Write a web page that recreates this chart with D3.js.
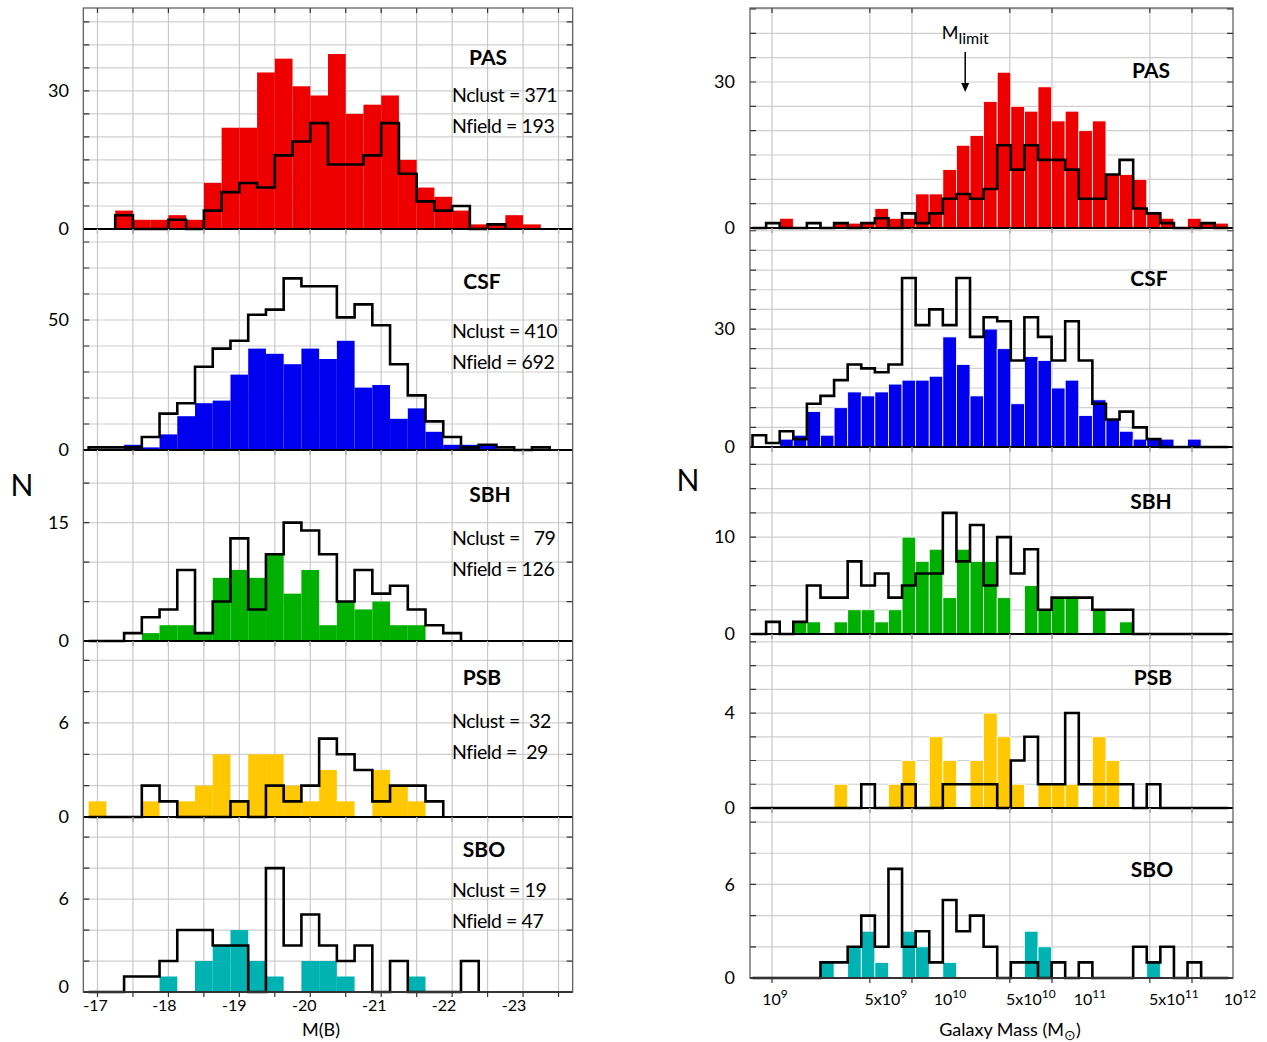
<!doctype html>
<html lang="en">
<head>
<meta charset="UTF-8">
<title>histograms</title>
<script src="https://cdn.jsdelivr.net/npm/d3@7/dist/d3.min.js"></script>
<style>
  body { margin: 0; background: #fff; }
  svg text { font-family: Lato, "Open Sans", sans-serif; fill: #000; white-space: pre; }
</style>
</head>
<body>
<script>
  // ---- data ----
  var classes = ["PAS", "CSF", "SBH", "PSB", "SBO"];
  var nClust = ["371", "410", "  79", " 32", "19"];
  var nField = ["193", "692", "126", " 29", "47"];

  // M(B) histograms, bins of 0.25 mag
  var magPasStart = -17.25;   // PAS bins
  var magStart = -16.875;     // other classes
  var magBin = 0.25;
  var magPasClust = [4,2,2,3,2,10,22,22,34,37,31,29,38,25,27,29,15,9,7,4,1,1,3,1];
  var magPasField = [3,0,0,2,0,4,8,10,9,16,19,23,14,14,16,23,12,6,4,5,0,1];
  var magCsfClust = [0,0,2,1,6,13,18,19,29,39,37,33,39,35,42,24,25,12,16,7,2,2,2];
  var magCsfField = [1,1,1,5,14,18,32,39,42,52,54,66,63,63,51,56,48,33,21,11,5,1,2,1,0,1];
  var magSbhClust = [0,0,0,1,2,2,1,8,9,8,11,6,9,2,5,4,5,2,2];
  var magSbhField = [0,0,1,3,4,9,1,5,13,4,11,15,14,11,5,9,6,7,4,2,1];
  var magPsbClust = [1,0,0,1,0,1,2,4,1,4,4,2,1,3,1,0,3,2,1];
  var magPsbField = [0,0,0,2,1,0,0,0,1,0,2,1,2,5,4,3,1,2,2,1];
  var magSboClust = [0,0,0,0,1,0,2,3,4,2,1,0,2,2,1,0,0,0,1];
  var magSboField = [0,0,1,1,2,4,4,3,3,0,8,3,5,3,2,3,0,2,0,0,0,2];

  // galaxy mass histograms, log bins
  var massStart = 8.861;   // log10 M of first bin edge
  var massBin = 0.0971;
  var massPasClust = [0,0,2,0,0,0,1,1,1,4,2,2,7,7,12,17,19,26,32,25,24,29,22,24,20,22,11,11,10,3,2,0,2,1,1];
  var massPasField = [0,1,0,0,1,0,1,0,1,2,0,3,1,3,6,7,6,8,17,12,17,14,14,12,6,6,11,14,4,3,1,0,0,1,0];
  var massCsfClust = [0,0,2,3,9,3,10,14,13,14,16,17,17,18,28,21,13,30,25,11,23,22,15,17,8,12,7,4,2,2,2,0,2,0,0];
  var massCsfField = [3,1,4,2,11,13,17,21,20,19,21,43,31,35,31,43,28,33,32,22,33,28,22,32,22,11,7,9,5,2,0,0,0,0,0];
  var massSbhClust = [0,0,0,1.25,1.25,0,1.25,2.5,2.5,1.25,2.5,10,7.5,8.75,3.75,8.75,7.5,7.5,3.75,0,5,2.5,3.75,3.75,0,2.5,0,1.25,0,0,0,0,0,0,0];
  var massSbhField = [0,1.25,0,1.25,5,3.75,3.75,7.5,5,6.25,3.75,5,6.25,6.25,12.5,7.5,11.25,5,10,6.25,8.75,2.5,3.75,3.75,3.75,2.5,2.5,2.5,0,0,0,0,0,0,0];
  var massPsbClust = [0,0,0,0,0,0,1,0,0,0,1,2,0,3,2,0,2,4,3,1,0,1,1,1,0,3,2,0,0,0,0,0,0,0,0];
  var massPsbField = [0,0,0,0,0,0,0,0,1,0,0,1,0,0,1,1,1,1,0,2,3,1,1,4,1,1,1,1,0,1,0,0,0,0,0];
  var massSboClust = [0,0,0,0,0,1,0,2,3,1,0,3,2,0,1,0,0,0,0,0,3,2,0,0,0,0,0,0,0,1,0,0,0,0,0];
  var massSboField = [0,0,0,0,0,1,1,2,4,2,7,2,3,1,5,3,4,2,0,1,1,0,1,0,1,0,0,0,2,1,2,0,1,0,0];

  var mLimit = 2.4e10;

  // axis ticks
  var magTicks = [-17,-18,-19,-20,-21,-22,-23];
  var massTicks = [1e9,5e9,1e10,5e10,1e11,5e11,1e12];
  var massTickBase = ["10","5x10","10","5x10","10","5x10","10"];
  var massTickExp = ["9","9","10","10","11","11","12"];
  var magYLabel = [30,50,15,6,6];
  var massYLabel = [30,30,10,4,6];

  // ---- layout ----
  var width = 1267, height = 1042;
  var colors = ["#ee0000", "#0000ee", "#00b000", "#ffc800", "#00b2b2"];
  var left = {x0: 83.3, x1: 572.7, top: 8, base: [229,450,641,817,992],
              ymax: [48,85,24.2,11.23,11.3], step: [5,10,5,2,2]};
  var right = {x0: 750, x1: 1233, top: 8, base: [228,447,634,808,978],
               ymax: [45.2,55.7,19.3,7.33,10.9], step: [5,5,2.5,1,2]};
  var magNudge = [-2,-4,-5,-6,-7,-8,-9];
  var massNudge = [3,16,38,21,38,24,48];

  var svg = d3.select("body").append("svg")
      .attr("width", width)
      .attr("height", height);

  var xL = d3.scaleLinear().domain([-16.8, -23.7]).range([left.x0, left.x1]);
  var xR = d3.scaleLog().domain([Math.pow(10, 8.843), Math.pow(10, 12.293)]).range([right.x0, right.x1]);

  var magGrid = d3.range(0, 14).map(function(i) { return -17 - 0.5 * i; });

  var magClust = [magPasClust, magCsfClust, magSbhClust, magPsbClust, magSboClust];
  var magField = [magPasField, magCsfField, magSbhField, magPsbField, magSboField];
  var massClust = [massPasClust, massCsfClust, massSbhClust, massPsbClust, massSboClust];
  var massField = [massPasField, massCsfField, massSbhField, massPsbField, massSboField];

  function stepPath(vals, edge, x, y) {
    var pts = [[x(edge(0)), y(0)]];
    vals.forEach(function(v, i) {
      pts.push([x(edge(i)), y(v)], [x(edge(i + 1)), y(v)]);
    });
    pts.push([x(edge(vals.length)), y(0)]);
    return d3.line()(pts);
  }

  function drawPanel(g, lay, p, x, grid, edge, clust, field, sep) {
    var top = p === 0 ? lay.top : lay.base[p - 1];
    var base = lay.base[p];
    var y = d3.scaleLinear().domain([0, lay.ymax[p]]).range([base, top]);
    var hTicks = d3.range(lay.step[p], lay.ymax[p], lay.step[p]);

    // grid
    g.selectAll(null).data(hTicks).enter().append("line")
      .attr("x1", lay.x0).attr("x2", lay.x1)
      .attr("y1", function(d) { return y(d); }).attr("y2", function(d) { return y(d); })
      .attr("stroke", "#cfcfcf").attr("stroke-width", 1.2);
    g.selectAll(null).data(grid).enter().append("line")
      .attr("x1", function(d) { return x(d); }).attr("x2", function(d) { return x(d); })
      .attr("y1", top).attr("y2", base)
      .attr("stroke", "#c8c8c8").attr("stroke-width", 1.2);

    // cluster bars
    var bars = clust.map(function(v, i) { return {v: v, i: i}; })
      .filter(function(d) { return d.v > 0; });
    g.selectAll(null).data(bars).enter().append("rect")
      .attr("x", function(d) { return Math.min(x(edge(d.i)), x(edge(d.i + 1))); })
      .attr("width", function(d) { return Math.abs(x(edge(d.i + 1)) - x(edge(d.i))); })
      .attr("y", function(d) { return y(d.v); })
      .attr("height", function(d) { return y(0) - y(d.v); })
      .attr("fill", colors[p])
      .attr("stroke", sep ? "#fff" : "none")
      .attr("stroke-width", 0.8);

    // field histogram outline
    g.append("path")
      .attr("d", stepPath(field, edge, x, y))
      .attr("fill", "none").attr("stroke", "#000")
      .attr("stroke-width", 2.6).attr("stroke-linejoin", "miter");

    // ticks on the side edges
    g.selectAll(null).data(hTicks).enter().append("path")
      .attr("d", function(d) {
        return "M" + lay.x0 + "," + y(d) + "h6M" + lay.x1 + "," + y(d) + "h-6";
      })
      .attr("stroke", "#333").attr("stroke-width", 1.2);
    // ticks under the baseline
    g.selectAll(null).data(grid).enter().append("line")
      .attr("x1", function(d) { return x(d); }).attr("x2", function(d) { return x(d); })
      .attr("y1", base).attr("y2", base + 5)
      .attr("stroke", "#333").attr("stroke-width", 1.2);
    if (p === 0) {
      g.selectAll(null).data(grid).enter().append("line")
        .attr("x1", function(d) { return x(d); }).attr("x2", function(d) { return x(d); })
        .attr("y1", top).attr("y2", top + 5)
        .attr("stroke", "#333").attr("stroke-width", 1.2);
    }

    // baseline
    g.append("line").attr("x1", lay.x0).attr("x2", lay.x1)
      .attr("y1", base).attr("y2", base)
      .attr("stroke", "#000").attr("stroke-width", 2);
    return y;
  }

  // ---- left column: M(B) ----
  var gl = svg.append("g");
  var titleL = [[488, 58], [482, 282], [490, 495], [482, 678], [484, 850]];
  var countY = [95, 331, 538, 721, 890];
  classes.forEach(function(c, p) {
    var start = p === 0 ? magPasStart : magStart;
    var edge = function(i) { return start - magBin * i; };
    var y = drawPanel(gl, left, p, xL, magGrid, edge, magClust[p], magField[p], false);

    gl.append("text").attr("x", 69).attr("y", y(magYLabel[p])).attr("dy", "0.35em")
      .attr("text-anchor", "end").style("font-size", "18px").text(magYLabel[p]);
    gl.append("text").attr("x", 69).attr("y", y(0) - (p === 4 ? 5 : 0)).attr("dy", "0.35em")
      .attr("text-anchor", "end").style("font-size", "18px").text("0");

    gl.append("text").attr("x", titleL[p][0]).attr("y", titleL[p][1]).attr("dy", "0.35em")
      .attr("text-anchor", "middle").style("font-size", "21px").style("font-weight", "bold").text(c);
    gl.append("text").attr("x", 452).attr("y", countY[p]).attr("dy", "0.35em")
      .style("font-size", "19.5px").style("letter-spacing", "-0.4px").text("Nclust = " + nClust[p]);
    gl.append("text").attr("x", 452).attr("y", countY[p] + 31).attr("dy", "0.35em")
      .style("font-size", "19.5px").style("letter-spacing", "-0.4px").text("Nfield = " + nField[p]);
  });
  gl.append("rect").attr("x", left.x0).attr("y", left.top)
    .attr("width", left.x1 - left.x0).attr("height", left.base[4] - left.top)
    .attr("fill", "none").attr("stroke", "#555").attr("stroke-width", 1.2);

  gl.selectAll(null).data(magTicks).enter().append("text")
    .attr("x", function(d, i) { return xL(d) + magNudge[i]; })
    .attr("y", 1005).attr("dy", "0.35em")
    .attr("text-anchor", "middle").style("font-size", "16px")
    .text(function(d) { return String(d); });
  gl.append("text").attr("x", 321).attr("y", 1030).attr("dy", "0.35em")
    .attr("text-anchor", "middle").style("font-size", "18px").text("M(B)");
  gl.append("text").attr("x", 22).attr("y", 485).attr("dy", "0.35em")
    .attr("text-anchor", "middle").style("font-size", "30px").text("N");

  // ---- right column: galaxy mass ----
  var gr = svg.append("g");
  var titleR = [[1151, 71], [1149, 279], [1151, 502], [1153, 678], [1152, 870]];
  classes.forEach(function(c, p) {
    var edge = function(i) { return Math.pow(10, massStart + massBin * i); };
    var y = drawPanel(gr, right, p, xR, massTicks, edge, massClust[p], massField[p], true);

    gr.append("text").attr("x", 735).attr("y", y(massYLabel[p])).attr("dy", "0.35em")
      .attr("text-anchor", "end").style("font-size", "18px").text(massYLabel[p]);
    gr.append("text").attr("x", 735).attr("y", y(0)).attr("dy", "0.35em")
      .attr("text-anchor", "end").style("font-size", "18px").text("0");
    gr.append("text").attr("x", titleR[p][0]).attr("y", titleR[p][1]).attr("dy", "0.35em")
      .attr("text-anchor", "middle").style("font-size", "21px").style("font-weight", "bold").text(c);
  });
  gr.append("rect").attr("x", right.x0).attr("y", right.top)
    .attr("width", right.x1 - right.x0).attr("height", right.base[4] - right.top)
    .attr("fill", "none").attr("stroke", "#555").attr("stroke-width", 1.2);

  var mt = gr.selectAll(null).data(massTicks).enter().append("text")
    .attr("x", function(d, i) { return xR(d) + massNudge[i]; })
    .attr("y", 1005)
    .attr("text-anchor", "middle").style("font-size", "16px");
  mt.append("tspan").text(function(d, i) { return massTickBase[i]; });
  mt.append("tspan").attr("dy", -7).style("font-size", "12px").text(function(d, i) { return massTickExp[i]; });

  var xl = gr.append("text").attr("x", 1010).attr("y", 1036)
    .attr("text-anchor", "middle").style("font-size", "18px");
  xl.append("tspan").text("Galaxy Mass (M");
  xl.append("tspan").attr("dy", 4).style("font-size", "14px").text("\u2299");
  xl.append("tspan").attr("dy", -4).text(")");

  gr.append("text").attr("x", 688).attr("y", 480).attr("dy", "0.35em")
    .attr("text-anchor", "middle").style("font-size", "30px").text("N");

  // mass limit marker
  var ml = gr.append("text").attr("x", xR(mLimit)).attr("y", 39)
    .attr("text-anchor", "middle").style("font-size", "18px");
  ml.append("tspan").text("M");
  ml.append("tspan").attr("dy", 5).style("font-size", "16px").text("limit");
  gr.append("line").attr("x1", xR(mLimit)).attr("x2", xR(mLimit))
    .attr("y1", 52).attr("y2", 84)
    .attr("stroke", "#000").attr("stroke-width", 1.5);
  gr.append("path")
    .attr("d", "M" + (xR(mLimit) - 4) + ",83L" + xR(mLimit) + ",92L" + (xR(mLimit) + 4) + ",83Z")
    .attr("fill", "#000");
</script>
</body>
</html>
